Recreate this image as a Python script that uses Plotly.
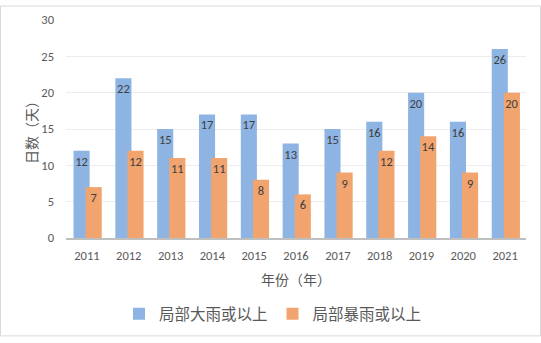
import plotly.graph_objects as go

years = ["2011", "2012", "2013", "2014", "2015", "2016", "2017", "2018", "2019", "2020", "2021"]
heavy_rain_days = [12, 22, 15, 17, 17, 13, 15, 16, 20, 16, 26]
rainstorm_days = [7, 12, 11, 11, 8, 6, 9, 12, 14, 9, 20]
y_ticks = [0, 5, 10, 15, 20, 25, 30]

series_names = ["局部大雨或以上", "局部暴雨或以上"]

BLUE = "#8DB4E2"
ORANGE = "#F2A46E"
LABEL = "#404040"
TICK = "#595959"
FONT = "Carlito, Calibri, 'Noto Sans CJK SC', sans-serif"
CJK = "'Noto Sans CJK SC', sans-serif"

fig = go.Figure()
fig.add_trace(go.Bar(
    x=years, y=heavy_rain_days, name=series_names[0],
    marker=dict(color=BLUE, line=dict(width=0)),
    width=0.385, offset=-0.32,
    text=heavy_rain_days, textposition="inside", insidetextanchor="end",
    constraintext="none", cliponaxis=False,
    textfont=dict(color=LABEL, size=12.5, family=FONT), textangle=0,
))
fig.add_trace(go.Bar(
    x=years, y=rainstorm_days, name=series_names[1],
    marker=dict(color=ORANGE, line=dict(width=0)),
    width=0.385, offset=-0.03,
    text=rainstorm_days, textposition="inside", insidetextanchor="end",
    constraintext="none", cliponaxis=False,
    textfont=dict(color=LABEL, size=12.5, family=FONT), textangle=0,
))

L, R, T, B = 66, 15, 15, 102
W, H = 541, 343
pw, ph = W - L - R, H - T - B

fig.update_layout(
    width=W, height=H,
    margin=dict(l=L, r=R, t=T, b=B, pad=0),
    paper_bgcolor="white", plot_bgcolor="white",
    barmode="overlay", bargap=0.2,
    font=dict(family=FONT, color=TICK),
    showlegend=True,
    legend=dict(
        orientation="h", x=0.45, xanchor="center",
        y=-(320 - (T + ph)) / ph, yanchor="middle",
        font=dict(family=CJK, size=15.5, color=TICK),
        itemsizing="constant", traceorder="normal",
        itemwidth=30,
    ),
    xaxis=dict(
        type="category", showgrid=False,
        showline=True, linecolor="#BFBFBF", linewidth=1.5,
        ticks="", tickfont=dict(size=12.5, color=TICK, family=FONT),
        ticklabelstandoff=5,
        title=dict(text="年份（年）", font=dict(family=CJK, size=14, color=TICK), standoff=13),
        range=[-0.5, 10.5],
    ),
    yaxis=dict(
        range=[0, 30], tickvals=y_ticks,
        showgrid=True, gridcolor="#EDEDED", gridwidth=1,
        zeroline=False, showline=False, ticks="",
        tickfont=dict(size=12.5, color=TICK, family=FONT),
        ticklabelstandoff=11,
        title=dict(text="日数（天）", font=dict(family=CJK, size=14, color=TICK), standoff=0),
    ),
    shapes=[dict(
        type="rect", xref="paper", yref="paper",
        x0=-(L - 0.5) / pw, x1=1 + (R - 0.5) / pw,
        y0=-(B - 0.5) / ph, y1=1 + (T - 0.5) / ph,
        line=dict(color="#D9D9D9", width=1), layer="below",
    )],
)

fig.write_html("out.html")
